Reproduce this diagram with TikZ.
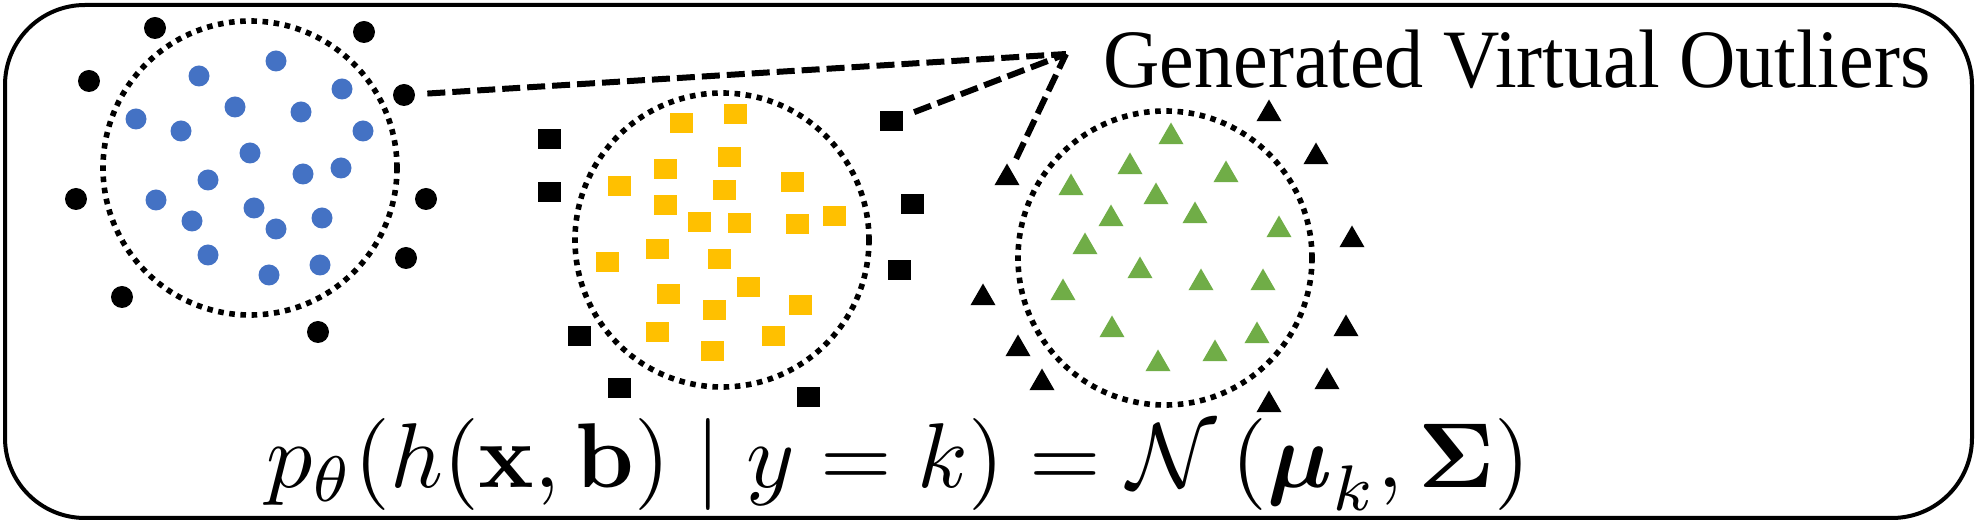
\documentclass[tikz,border=0pt]{standalone}
\usepackage{amsmath}
\usepackage[no-math]{fontspec}
\usepackage{tikz}
\usetikzlibrary{shapes.geometric}
\newfontfamily\gvofont{Liberation Serif}
\definecolor{setblue}{HTML}{4472C4}
\definecolor{setyellow}{HTML}{FFC000}
\definecolor{setgreen}{HTML}{70AD47}
\tikzset{
  ring/.style={circle, draw, line width=2.8pt, dash pattern=on 2.8pt off 2.8pt, minimum size=147pt, inner sep=0pt},
  dotpt/.style={circle, inner sep=0pt, minimum size=10.5pt},
  sqpt/.style={rectangle, inner sep=0pt, minimum width=11.5pt, minimum height=10pt},
  tript/.style={regular polygon, regular polygon sides=3, inner sep=0pt, minimum size=14.5pt},
  inblue/.style={dotpt, fill=setblue},
  outdot/.style={dotpt, fill=black, minimum size=11pt},
  inyellow/.style={sqpt, fill=setyellow},
  outsq/.style={sqpt, fill=black},
  ingreen/.style={tript, fill=setgreen},
  outtri/.style={tript, fill=black},
  outlink/.style={line width=3pt, dash pattern=on 9pt off 3.5pt, shorten <=6pt}
}

\begin{document}
\begin{tikzpicture}[x=0.5pt, y=-0.5pt]
		%%%%% START %%%%%
		\useasboundingbox (0,0) rectangle (1978,523);
		
		\draw[line width=2pt, rounded corners=40pt] (5,5) rectangle (1972,518);
		
		% blue class
		\node[ring] (blueset) at (250,168) {};
		\node[inblue] (b1) at (199,76) {};
		\node[inblue] (b2) at (276,61) {};
		\node[inblue] (b3) at (342,89) {};
		\node[inblue] (b4) at (235,107) {};
		\node[inblue] (b5) at (301,112) {};
		\node[inblue] (b6) at (136,119) {};
		\node[inblue] (b7) at (181,131) {};
		\node[inblue] (b8) at (363,131) {};
		\node[inblue] (b9) at (250,153) {};
		\node[inblue] (b10) at (341,168) {};
		\node[inblue] (b11) at (303,174) {};
		\node[inblue] (b12) at (208,180) {};
		\node[inblue] (b13) at (156,200) {};
		\node[inblue] (b14) at (254,208) {};
		\node[inblue] (b15) at (192,221) {};
		\node[inblue] (b16) at (322,218) {};
		\node[inblue] (b17) at (276,229) {};
		\node[inblue] (b18) at (208,255) {};
		\node[inblue] (b19) at (320,265) {};
		\node[inblue] (b20) at (269,275) {};
		
		\node[outdot] (bo1) at (155,28) {};
		\node[outdot] (bo2) at (364,32) {};
		\node[outdot] (bo3) at (89,81) {};
		\node[outdot] (bo4) at (404,95) {};
		\node[outdot] (bo5) at (76,199) {};
		\node[outdot] (bo6) at (426,199) {};
		\node[outdot] (bo7) at (406,258) {};
		\node[outdot] (bo8) at (122,297) {};
		\node[outdot] (bo9) at (318,332) {};
		
		% yellow class
		\node[ring] (yellowset) at (722,240) {};
		\node[inyellow] (y1) at (681,123) {};
		\node[inyellow] (y2) at (735,114) {};
		\node[inyellow] (y3) at (729,157) {};
		\node[inyellow] (y4) at (665,169) {};
		\node[inyellow] (y5) at (619,186) {};
		\node[inyellow] (y6) at (724,190) {};
		\node[inyellow] (y7) at (792,182) {};
		\node[inyellow] (y8) at (665,205) {};
		\node[inyellow] (y9) at (699,222) {};
		\node[inyellow] (y10) at (739,223) {};
		\node[inyellow] (y11) at (797,224) {};
		\node[inyellow] (y12) at (834,216) {};
		\node[inyellow] (y13) at (657,249) {};
		\node[inyellow] (y14) at (607,262) {};
		\node[inyellow] (y15) at (719,259) {};
		\node[inyellow] (y16) at (748,287) {};
		\node[inyellow] (y17) at (668,294) {};
		\node[inyellow] (y18) at (714,310) {};
		\node[inyellow] (y19) at (800,305) {};
		\node[inyellow] (y20) at (657,332) {};
		\node[inyellow] (y21) at (773,336) {};
		\node[inyellow] (y22) at (712,351) {};
		
		\node[outsq] (so1) at (549,139) {};
		\node[outsq] (so2) at (549,192) {};
		\node[outsq] (so3) at (891,121) {};
		\node[outsq] (so4) at (912,204) {};
		\node[outsq] (so5) at (899,270) {};
		\node[outsq] (so6) at (579,336) {};
		\node[outsq] (so7) at (619,388) {};
		\node[outsq] (so8) at (808,397) {};
		
		% green class
		\node[ring] (greenset) at (1165,258) {};
		\node[ingreen] (g1) at (1171,137) {};
		\node[ingreen] (g2) at (1130,167) {};
		\node[ingreen] (g3) at (1226,175) {};
		\node[ingreen] (g4) at (1071,188) {};
		\node[ingreen] (g5) at (1156,197) {};
		\node[ingreen] (g6) at (1111,219) {};
		\node[ingreen] (g7) at (1195,216) {};
		\node[ingreen] (g8) at (1279,230) {};
		\node[ingreen] (g9) at (1085,247) {};
		\node[ingreen] (g10) at (1140,271) {};
		\node[ingreen] (g11) at (1063,293) {};
		\node[ingreen] (g12) at (1201,283) {};
		\node[ingreen] (g13) at (1263,283) {};
		\node[ingreen] (g14) at (1112,330) {};
		\node[ingreen] (g15) at (1257,336) {};
		\node[ingreen] (g16) at (1215,354) {};
		\node[ingreen] (g17) at (1158,364) {};
		
		\node[outtri] (to1) at (1269,114) {};
		\node[outtri] (to2) at (1316,157) {};
		\node[outtri] (to3) at (1007,178) {};
		\node[outtri] (to4) at (1352,240) {};
		\node[outtri] (to5) at (983,298) {};
		\node[outtri] (to6) at (1346,329) {};
		\node[outtri] (to7) at (1018,349) {};
		\node[outtri] (to8) at (1042,383) {};
		\node[outtri] (to9) at (1327,382) {};
		\node[outtri] (to10) at (1269,405) {};
		
		% virtual outliers label
		\coordinate (gvo) at (1066,54);
		\node[anchor=base west, inner sep=0pt] (gvolabel) at (1103,88) {\scalebox{0.94}[1]{\gvofont\fontsize{41.5pt}{50pt}\selectfont Generated Virtual Outliers}};
		\draw[outlink] (bo4) -- (gvo);
		\draw[outlink] (so3) -- (gvo);
		\draw[outlink] (to3) -- (gvo);
		
		\node[anchor=base west, inner sep=0pt] (density) at (266,488) {\scalebox{4.6}{$p_\theta(h(\mathbf{x},\mathbf{b}) \mid y=k) = \mathcal{N}\left(\boldsymbol{\mu}_k, \boldsymbol{\Sigma}\right)$}};
		
		%%%%% END %%%%%
	\end{tikzpicture}
\end{document}
